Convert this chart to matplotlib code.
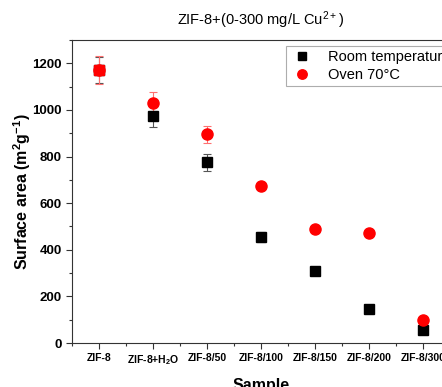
import numpy as np
import matplotlib.pyplot as plt
from matplotlib.ticker import MultipleLocator

plt.rcParams['font.family'] = ['Liberation Sans', 'DejaVu Sans']
plt.rcParams['mathtext.fontset'] = 'custom'
plt.rcParams['mathtext.rm'] = 'Liberation Sans'
plt.rcParams['mathtext.bf'] = 'Liberation Sans:bold'
plt.rcParams['mathtext.default'] = 'regular'

samples = ["ZIF-8", "ZIF-8+H$_2$O", "ZIF-8/50", "ZIF-8/100", "ZIF-8/150", "ZIF-8/200", "ZIF-8/300"]
room = [1170, 975, 775, 455, 310, 145, 55]
room_err = [55, 50, 38, 20, 8, 8, 8]
oven = [1172, 1030, 896, 675, 487, 470, 100]
oven_err = [60, 47, 37, 15, 8, 8, 8]

x = np.arange(1, len(samples) + 1)

fig = plt.figure(figsize=(4.42, 3.87), dpi=100)
ax = fig.add_axes([72 / 442, 44 / 387, 378 / 442, 303 / 387])

# room temperature (first point is hidden under the red one in the original)
ax.errorbar(x, room, yerr=room_err, fmt="none", ecolor="#555555",
            elinewidth=0.8, capsize=3, capthick=0.8, zorder=2)
ax.plot(x, room, "s", color="black", ms=7, label="Room temperature", zorder=3)
ax.errorbar(x, oven, yerr=oven_err, fmt="none", ecolor="#ff7070",
            elinewidth=0.8, capsize=3, capthick=0.8, zorder=2)
ax.plot(x[:1], oven[:1], "s", color="red", ms=7.5, zorder=4)
ax.plot(x, oven, "o", color="red", ms=8, label="Oven 70°C", zorder=4)

ax.set_xlim(0.5, 7.5)
ax.set_ylim(0, 1300)
ax.set_xticks(x)
ax.set_xticklabels(samples, fontsize=7.5, fontweight="bold")
ax.xaxis.set_minor_locator(MultipleLocator(0.5))
ax.yaxis.set_major_locator(MultipleLocator(200))
ax.yaxis.set_minor_locator(MultipleLocator(100))
ax.tick_params(axis="y", labelsize=9.5)
for lab in ax.get_yticklabels():
    lab.set_fontweight("bold")
ax.tick_params(which="major", direction="out", length=4, width=0.8, color="#333333")
ax.tick_params(which="minor", direction="out", length=2.5, width=0.8, color="#333333")
for s in ax.spines.values():
    s.set_color("#333333")

ax.set_xlabel("Sample", fontsize=11.5, fontweight="bold", labelpad=8)
ax.set_ylabel("Surface area (m$^\\mathbf{2}$g$^\\mathbf{-1}$)", fontsize=11.5, fontweight="bold", labelpad=-1)
fig.text(261 / 442, 1 - 20 / 387, "ZIF-8+(0-300 mg/L Cu$^{2+}$)", ha="center", va="center", fontsize=10.5)

leg = ax.legend(loc="upper left", bbox_to_anchor=(0.566, 0.98), borderaxespad=0, fontsize=10.5,
                frameon=True, fancybox=False, edgecolor="#999999", handletextpad=1.0, borderpad=0.3,
                labelspacing=0.25, handlelength=1.6, markerscale=0.85)
leg.get_frame().set_linewidth(0.8)

fig.savefig("out.png", dpi=100)
